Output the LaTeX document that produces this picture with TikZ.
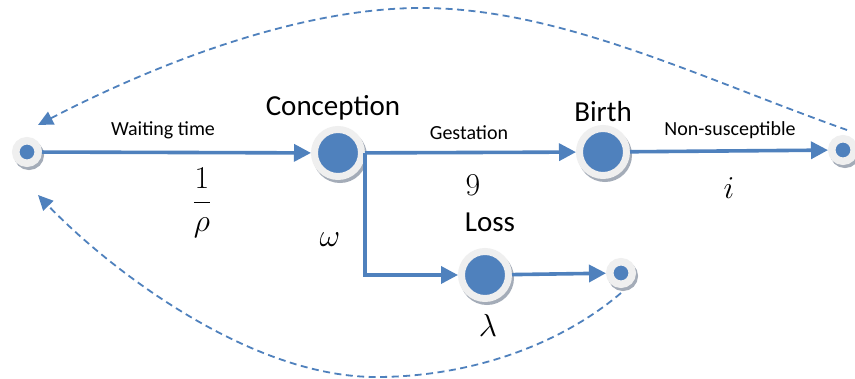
\documentclass[tikz,border=0pt]{standalone}
\usepackage{graphicx}
\usepackage{fontspec}
\setmainfont{Carlito}
\usetikzlibrary{arrows.meta}
\definecolor{nodeblue}{HTML}{4F81BD}
\definecolor{ringgray}{HTML}{EFEFEF}
\definecolor{shadowgray}{HTML}{A4ACB8}
\newcommand{\bigmath}[1]{\scalebox{1.28}{$#1$}}
\begin{document}
\begin{tikzpicture}[x=1pt,y=-1pt,
  bignode/.style={circle, fill=nodeblue, draw=ringgray, line width=7pt, minimum size=47pt, inner sep=0pt,
    preaction={draw=shadowgray, fill=shadowgray, line width=7pt, transform canvas={shift={(2pt,-3pt)}}}},
  smallnode/.style={circle, fill=nodeblue, draw=ringgray, line width=7.5pt, minimum size=22.5pt, inner sep=0pt,
    preaction={draw=shadowgray, fill=shadowgray, line width=7.5pt, transform canvas={shift={(2pt,-3pt)}}}},
  lab/.style={font=\fontsize{20}{24}\selectfont, inner sep=0pt},
  biglab/.style={font=\fontsize{29}{34}\selectfont, inner sep=0pt},
  mlab/.style={font=\fontsize{24.88}{30}\selectfont, inner sep=0pt},
  flow/.style={draw=nodeblue, line width=3.6pt, -{Triangle[length=17pt,width=17pt]}},
  back/.style={draw=nodeblue, line width=1.8pt, dash pattern=on 7pt off 4.5pt, -{Triangle[length=15pt,width=14pt]}}
]
\useasboundingbox (0,0) rectangle (855,379);
\fill[white] (0,0) rectangle (855,379);

% nodes
\node[smallnode] (S) at (27,152) {};
\node[bignode] (C) at (338,153) {};
\node[bignode] (B) at (603,152) {};
\node[smallnode] (E) at (843,150) {};
\node[bignode] (L) at (485,275) {};
\node[smallnode] (LE) at (621,273) {};

% coordinates for dashed ends
\coordinate (topend) at (38,125);
\coordinate (botend) at (38,195);
\coordinate (topstart) at (847,130);
\coordinate (botstart) at (621,293);

% flows
\draw[flow] (S) -- (C);
\draw[flow] (C) -- (B);
\draw[flow] (B) -- (E);
\draw[flow] (C.east) |- (L.west);
\draw[flow] (L) -- (LE);

% dashed feedback
\draw[back] (topstart) .. controls (700,78) and (560,8) .. (421,8)
                       .. controls (290,8) and (140,72) .. (topend);
\draw[back] (botstart) .. controls (560,345) and (470,377) .. (376,377)
                       .. controls (250,377) and (110,270) .. (botend);

% labels
\node[lab] (lwait) at (163,130) {Waiting time};
\node[lab] (lgest) at (469,133) {Gestation};
\node[lab] (lnons) at (730,130) {Non-susceptible};
\node[biglab] (lcon) at (333,108) {Conception};
\node[biglab] (lbir) at (603,112) {Birth};
\node[biglab] (lloss) at (490,222) {Loss};
\node[mlab] (mrho) at (202,203) {\bigmath{\displaystyle\frac{1}{\rho}}};
\node[mlab] (mnine) at (473,185) {\bigmath{9}};
\node[mlab] (mi) at (729,188) {\bigmath{i}};
\node[mlab] (momega) at (330,240) {\bigmath{\omega}};
\node[mlab] (mlam) at (488,325) {\bigmath{\lambda}};
\end{tikzpicture}
\end{document}
